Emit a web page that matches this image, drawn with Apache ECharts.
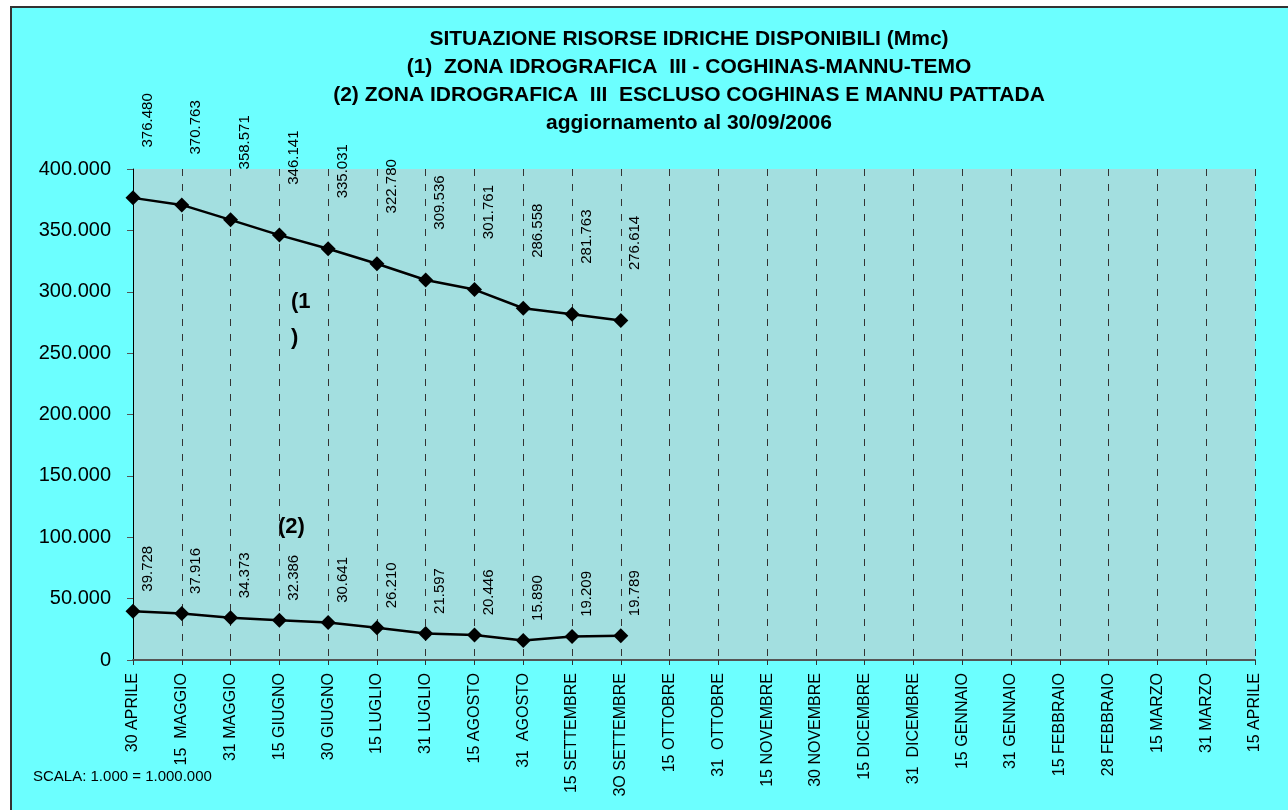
<!DOCTYPE html>
<html>
<head>
<meta charset="utf-8">
<script src="https://cdn.jsdelivr.net/npm/echarts@6/dist/echarts.min.js"></script>
<style>
  body { margin: 0; background: #ffffff; }
  #frame {
    position: absolute; left: 10px; top: 6px; width: 1280px; height: 806px;
    background: #6cffff; border-top: 2px solid #333; border-left: 2px solid #333;
  }
  #chart { position: absolute; left: 0; top: 0; width: 1288px; height: 810px; }
</style>
</head>
<body>
<div id="frame"></div>
<div id="chart"></div>
<script>
const dates = [
  "30 APRILE", "15  MAGGIO", "31 MAGGIO", "15 GIUGNO", "30 GIUGNO", "15 LUGLIO",
  "31 LUGLIO", "15 AGOSTO", "31  AGOSTO", "15 SETTEMBRE", "3O SETTEMBRE", "15 OTTOBRE",
  "31  OTTOBRE", "15 NOVEMBRE", "30 NOVEMBRE", "15 DICEMBRE", "31  DICEMBRE", "15 GENNAIO",
  "31 GENNAIO", "15 FEBBRAIO", "28 FEBBRAIO", "15 MARZO", "31 MARZO", "15 APRILE"
];

// (1) zona idrografica III - Coghinas-Mannu-Temo
const zona1 = [376480, 370763, 358571, 346141, 335031, 322780, 309536, 301761, 286558, 281763, 276614];
// (2) zona idrografica III escluso Coghinas e Mannu Pattada
const zona2 = [39728, 37916, 34373, 32386, 30641, 26210, 21597, 20446, 15890, 19209, 19789];

const titleLines = [
  "SITUAZIONE RISORSE IDRICHE DISPONIBILI (Mmc)",
  "(1)  ZONA IDROGRAFICA  III - COGHINAS-MANNU-TEMO",
  "(2) ZONA IDROGRAFICA  III  ESCLUSO COGHINAS E MANNU PATTADA",
  "aggiornamento al 30/09/2006"
];

const font = "Liberation Sans";

function fmt(n) {
  return String(n).replace(/\B(?=(\d{3})+(?!\d))/g, ".");
}

function lineSeries(name, values, labelPos) {
  return {
    name,
    type: "line",
    data: values,
    symbol: "diamond",
    symbolSize: 15,
    lineStyle: { color: "#000", width: 2.5 },
    itemStyle: { color: "#000" },
    label: {
      show: true,
      rotate: 90,
      position: labelPos,
      align: "center",
      verticalAlign: "middle",
      fontFamily: font,
      fontSize: 15,
      color: "#000",
      formatter: (p) => fmt(p.value),
    },
    emphasis: { disabled: true },
    animation: false,
  };
}

const chart = echarts.init(document.getElementById("chart"));

chart.setOption({
  backgroundColor: "transparent",
  animation: false,
  title: {
    text: titleLines.join("\n"),
    left: 684,
    top: 20,
    textAlign: "center",
    textStyle: {
      fontFamily: font,
      fontSize: 21,
      fontWeight: "bold",
      color: "#000",
      lineHeight: 28,
    },
  },
  grid: {
    left: 133,
    right: 33,
    top: 169,
    bottom: 150,
    show: true,
    backgroundColor: "#a3dfe0",
    borderWidth: 0,
  },
  xAxis: {
    type: "category",
    data: dates,
    boundaryGap: false,
    axisLine: { lineStyle: { color: "#555", width: 2 } },
    axisTick: { show: true, length: 5, lineStyle: { color: "#333" } },
    axisLabel: {
      interval: 0,
      rotate: 90,
      margin: 13,
      fontFamily: font,
      fontSize: 16,
      color: "#000",
    },
    splitLine: {
      show: true,
      lineStyle: { color: "#333", width: 1, type: [7, 8] },
    },
  },
  yAxis: {
    type: "value",
    min: 0,
    max: 400000,
    interval: 50000,
    axisLine: { show: true, lineStyle: { color: "#000", width: 1 } },
    axisTick: { show: true, length: 6, lineStyle: { color: "#555" } },
    axisLabel: {
      margin: 22,
      fontFamily: font,
      fontSize: 20,
      color: "#000",
      formatter: (v) => fmt(v),
    },
    splitLine: { show: false },
  },
  graphic: [
    {
      type: "text",
      left: 291,
      top: 284,
      style: { text: "(1\n)", font: "bold 22px " + font, fill: "#000", lineHeight: 36 },
    },
    {
      type: "text",
      left: 278,
      top: 516,
      style: { text: "(2)", font: "bold 22px " + font, fill: "#000" },
    },
    {
      type: "text",
      left: 33,
      top: 769,
      style: { text: "SCALA: 1.000 = 1.000.000", font: "15px " + font, fill: "#000" },
    },
  ],
  series: [
    lineSeries("(1)", zona1, [22, -70]),
    lineSeries("(2)", zona2, [22, -35]),
  ],
});
</script>
</body>
</html>
